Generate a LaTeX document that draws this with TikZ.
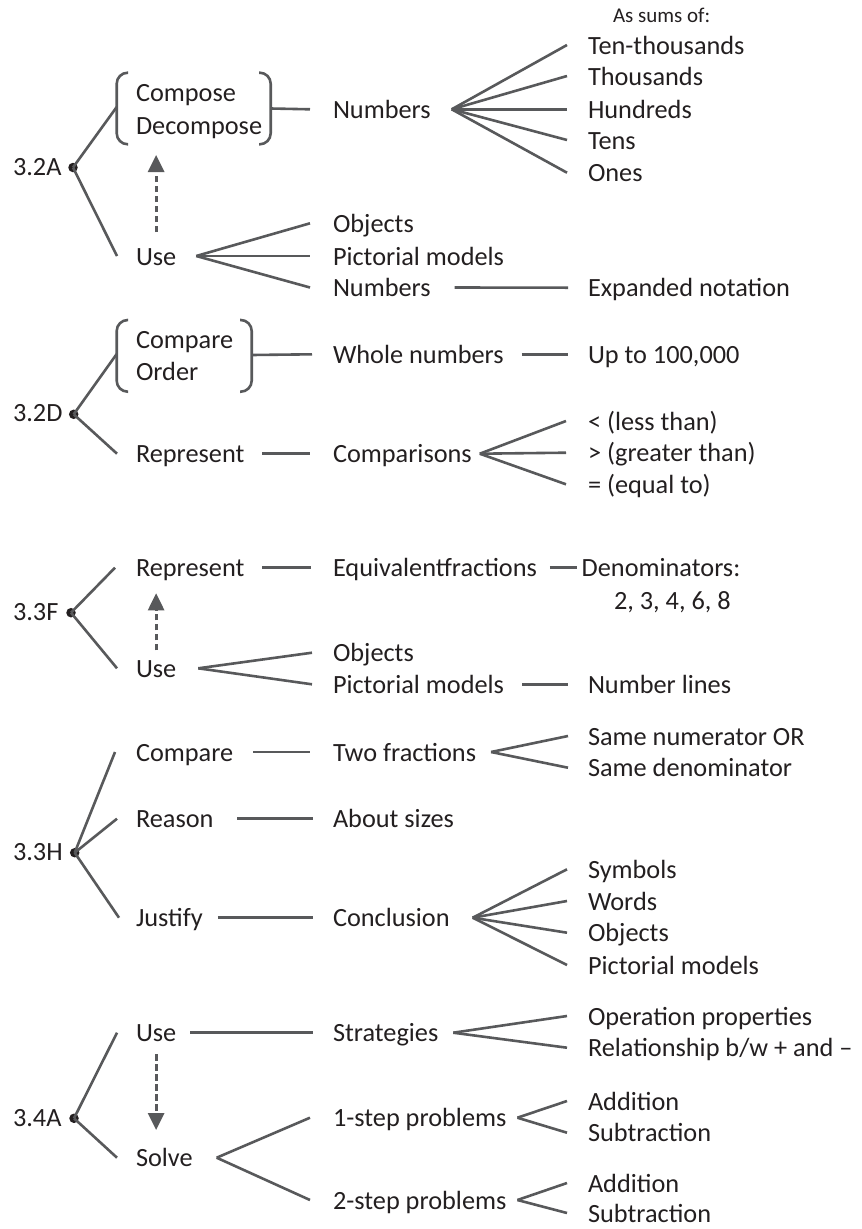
\documentclass[tikz,border=0pt]{standalone}
\usepackage{fontspec}
\setmainfont{Carlito}
\usetikzlibrary{arrows.meta,calc}
\definecolor{txt}{HTML}{231F20}
\definecolor{ln}{HTML}{58595B}
\begin{document}
\begin{tikzpicture}[x=1pt,y=-1pt,
  every node/.style={inner sep=0pt, outer sep=0pt, text=txt},
  lbl/.style={anchor=base west, font=\fontsize{26.3}{31}\selectfont, text height=18pt, text depth=0pt},
  smalllbl/.style={anchor=base west, font=\fontsize{21}{25}\selectfont},
  conn/.style={draw=ln, line width=2.6pt},
  brk/.style={draw=ln, line width=2.6pt, rounded corners=11pt},
  dotnode/.style={circle, fill=txt, minimum size=9.5pt},
  dasharrow/.style={draw=ln, line width=2.8pt, dash pattern=on 6.5pt off 3.5pt,
    -{Triangle[width=16pt,length=17pt]}}
]
\useasboundingbox (0,0) rectangle (862,1229);

% ---------------- 3.2A ----------------
\node[lbl] (r1) at (13,175) {3.2A};
\node[dotnode] (d1) at (73,167.5) {};
\node[lbl] (comp) at (136,101.7) {Compose};
\node[lbl] (decomp) at (136,134.3) {Decompose};
\draw[brk] (128,72.7) -- (116.7,72.7) -- (116.7,144.3) -- (128,144.3);
\draw[brk] (259,72.7) -- (270.7,72.7) -- (270.7,144.3) -- (259,144.3);
\coordinate (bl1) at (116.7,107);
\coordinate (br1) at (270.7,108.5);
\coordinate (a1e) at (156.7,155);
\node[lbl] (use1) at (136,265) {Use};
\node[lbl] (num1) at (333,118.3) {Numbers};
\node[smalllbl] (sums) at (613,22.7) {As sums of:};
\node[lbl] (tt) at (588,54) {Ten-thousands};
\node[lbl] (th) at (588,85) {Thousands};
\node[lbl] (hu) at (588,118.3) {Hundreds};
\node[lbl] (te) at (588,149) {Tens};
\node[lbl] (on) at (588,181.7) {Ones};
\node[lbl] (obj1) at (333,232.3) {Objects};
\node[lbl] (pic1) at (333,265) {Pictorial models};
\node[lbl] (num2) at (333,296.5) {Numbers};
\node[lbl] (exp) at (588,296.7) {Expanded notation};

\draw[conn] (d1.center) -- (bl1);
\draw[conn] (d1.center) -- ([xshift=-19pt]use1.west);
\draw[conn] (br1) -- ([xshift=-23pt]num1.west);
\foreach \t in {tt,th,hu,te,on}
  \draw[conn] ([xshift=21pt]num1.east) -- ([xshift=-21pt]\t.west);
\foreach \t in {obj1,pic1,num2}
  \draw[conn] ([xshift=20pt]use1.east) -- ([xshift=-23pt]\t.west);
\draw[conn] ([xshift=24pt]num2.east) -- ([xshift=-20pt]exp.west);
\draw[dasharrow] ([yshift=15pt]use1.north) -- (use1.north |- a1e);

% ---------------- 3.2D ----------------
\node[lbl] (r2) at (13,421.7) {3.2D};
\node[dotnode] (d2) at (73.7,414.3) {};
\node[lbl] (cmp2) at (136,348.3) {Compare};
\node[lbl] (ord2) at (136,380) {Order};
\draw[brk] (128,320) -- (116.7,320) -- (116.7,391.7) -- (128,391.7);
\draw[brk] (240,320) -- (251.7,320) -- (251.7,391.7) -- (240,391.7);
\coordinate (bl2) at (116.7,354);
\coordinate (br2) at (251.7,355);
\node[lbl] (rep2) at (136,462.7) {Represent};
\node[lbl] (whole) at (333,363.3) {Whole numbers};
\node[lbl] (upto) at (588,363.3) {Up to 100,000};
\node[lbl] (comps) at (333,462.7) {Comparisons};
\node[lbl] (lt) at (588,430) {< (less than)};
\node[lbl] (gt) at (588,461.7) {> (greater than)};
\node[lbl] (eq) at (588,493.3) {= (equal to)};

\draw[conn] (d2.center) -- (bl2);
\draw[conn] (d2.center) -- ([xshift=-19pt]rep2.west);
\draw[conn] (br2) -- ([xshift=-21pt]whole.west);
\draw[conn] ([xshift=18pt]whole.east) -- ([xshift=-20pt]upto.west);
\draw[conn] ([xshift=18pt]rep2.east) -- ([xshift=-23pt]comps.west);
\foreach \t in {lt,gt,eq}
  \draw[conn] ([xshift=8pt]comps.east) -- ([xshift=-22pt]\t.west);

% ---------------- 3.3F ----------------
\node[lbl] (r3) at (13,620) {3.3F};
\node[dotnode] (d3) at (71,612.7) {};
\node[lbl] (rep3) at (136,576.7) {Represent};
\node[lbl] (equiv) at (333,576.7) {Equivalentfractions};
\node[lbl] (denom) at (581.7,576.7) {Denominators:};
\node[lbl] (dlist) at (614,609) {2, 3, 4, 6, 8};
\node[lbl] (use3) at (136,677.3) {Use};
\node[lbl] (obj3) at (333,661.7) {Objects};
\node[lbl] (pic3) at (333,693.3) {Pictorial models};
\node[lbl] (nlines) at (588,693.3) {Number lines};

\draw[conn] (d3.center) -- ([xshift=-21pt]rep3.west);
\draw[conn] (d3.center) -- ([xshift=-19pt]use3.west);
\draw[conn] ([xshift=18pt]rep3.east) -- ([xshift=-22pt]equiv.west);
\draw[conn] ([xshift=13pt]equiv.east) -- ([xshift=-5pt]denom.west);
\foreach \t in {obj3,pic3}
  \draw[conn] ([xshift=22pt]use3.east) -- ([xshift=-21pt]\t.west);
\draw[conn] ([xshift=18pt]pic3.east) -- ([xshift=-20pt]nlines.west);
\draw[dasharrow] ([yshift=9pt]use3.north) -- ($(use3.north |- rep3.south)+(0,16.6)$);

% ---------------- 3.3H ----------------
\node[lbl] (r4) at (13,860) {3.3H};
\node[dotnode] (d4) at (74.7,852.7) {};
\node[lbl] (cmp4) at (136,761) {Compare};
\node[lbl] (rea4) at (136,827.7) {Reason};
\node[lbl] (jus4) at (136,926.7) {Justify};
\node[lbl] (two) at (333,761) {Two fractions};
\node[lbl] (about) at (333,827.7) {About sizes};
\node[lbl] (concl) at (333,926.7) {Conclusion};
\node[lbl] (snum) at (588,745) {Same numerator OR};
\node[lbl] (sden) at (588,776.7) {Same denominator};
\node[lbl] (sym) at (588,878.3) {Symbols};
\node[lbl] (wor) at (588,910) {Words};
\node[lbl] (obj4) at (588,941.7) {Objects};
\node[lbl] (pic4) at (588,974) {Pictorial models};

\draw[conn] (d4.center) -- ([xshift=-21pt]cmp4.west);
\draw[conn] (d4.center) -- ([xshift=-19pt]rea4.west);
\draw[conn] (d4.center) -- ([xshift=-17pt]jus4.west);
\draw[conn] ([xshift=20pt]cmp4.east) -- ([xshift=-23pt]two.west);
\draw[conn] ([xshift=24pt]rea4.east) -- ([xshift=-20pt]about.west);
\draw[conn] ([xshift=15pt]jus4.east) -- ([xshift=-20pt]concl.west);
\foreach \t in {snum,sden}
  \draw[conn] ([xshift=15pt]two.east) -- ([xshift=-20pt]\t.west);
\foreach \t in {sym,wor,obj4,pic4}
  \draw[conn] ([xshift=23pt]concl.east) -- ([xshift=-21pt]\t.west);

% ---------------- 3.4A ----------------
\node[lbl] (r5) at (13,1126.7) {3.4A};
\node[dotnode] (d5) at (74,1118.3) {};
\node[lbl] (use5) at (136,1041.7) {Use};
\node[lbl] (sol5) at (136,1166.7) {Solve};
\node[lbl] (strat) at (333,1041.7) {Strategies};
\node[lbl] (one) at (333,1126.7) {1-step problems};
\node[lbl] (two5) at (333,1209) {2-step problems};
\node[lbl] (oper) at (588,1025) {Operation properties};
\node[lbl] (rel) at (588,1056.7) {Relationship b/w + and –};
\node[lbl] (add1) at (588,1110) {Addition};
\node[lbl] (sub1) at (588,1141.7) {Subtraction};
\node[lbl] (add2) at (588,1192) {Addition};
\node[lbl] (sub2) at (588,1222) {Subtraction};

\draw[conn] (d5.center) -- ([xshift=-19pt]use5.west);
\draw[conn] (d5.center) -- ([xshift=-19pt]sol5.west);
\draw[conn] ([xshift=14pt]use5.east) -- ([xshift=-20pt]strat.west);
\foreach \t in {oper,rel}
  \draw[conn] ([xshift=15pt]strat.east) -- ([xshift=-21pt]\t.west);
\foreach \t in {one,two5}
  \draw[conn] ([xshift=24pt]sol5.east) -- ([xshift=-23pt]\t.west);
\foreach \t in {add1,sub1}
  \draw[conn] ([xshift=11pt]one.east) -- ([xshift=-21pt]\t.west);
\foreach \t in {add2,sub2}
  \draw[conn] ([xshift=11pt]two5.east) -- ([xshift=-21pt]\t.west);
\draw[dasharrow] ([yshift=-12.3pt]use5.south) -- ($(use5.south |- sol5.north)+(0,-18.7)$);
\end{tikzpicture}
\end{document}
